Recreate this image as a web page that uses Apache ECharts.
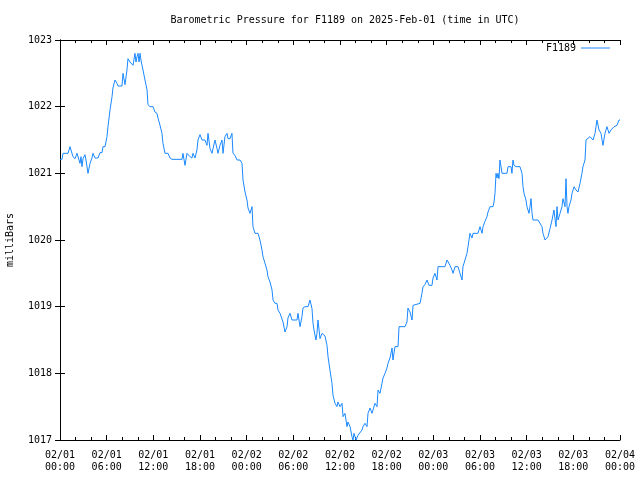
<!DOCTYPE html>
<html>
<head>
<meta charset="utf-8">
<script src="https://cdn.jsdelivr.net/npm/echarts@6/dist/echarts.min.js"></script>
<style>html,body{margin:0;padding:0;background:#fff}#c{width:640px;height:480px}</style>
</head>
<body>
<div id="c"></div>
<script>
// Hours since 2025-02-01 00:00 UTC
const hours = [0,0.26,0.39,1.03,1.29,1.41,1.67,1.93,2.19,2.31,2.57,2.70,2.83,2.96,3.21,3.34,3.60,3.86,4.11,4.24,4.50,4.89,5.14,5.40,5.53,5.79,6.04,6.17,6.43,6.69,6.81,7.07,7.33,7.46,7.97,8.10,8.36,8.61,8.74,9.00,9.39,9.64,9.77,9.90,10.03,10.16,10.29,10.41,10.54,10.67,10.93,11.19,11.31,11.57,11.96,12.21,12.47,12.60,12.86,13.11,13.24,13.50,13.89,14.14,14.40,15.69,15.81,16.07,16.33,16.71,16.97,17.10,17.36,17.61,17.74,18.00,18.26,18.64,18.90,19.03,19.29,19.54,19.67,19.93,20.19,20.31,20.57,20.83,20.96,21.21,21.47,21.60,21.86,22.11,22.24,22.50,22.76,23.14,23.40,23.53,23.79,24.04,24.17,24.43,24.69,24.81,25.07,25.46,25.71,25.97,26.10,26.36,26.61,26.74,27.00,27.26,27.39,27.64,27.90,28.03,28.29,28.54,28.67,28.93,29.19,29.31,29.57,29.83,30.47,30.60,30.86,31.11,31.24,31.50,31.89,32.14,32.40,32.53,32.66,32.91,33.04,33.17,33.43,33.69,33.81,34.07,34.33,34.46,34.71,34.97,35.10,35.36,35.61,35.74,36.00,36.26,36.39,36.64,36.90,37.03,37.29,37.54,37.67,37.80,38.06,38.31,38.44,38.83,38.96,39.21,39.47,39.60,39.86,40.11,40.24,40.50,40.76,40.89,41.14,41.40,41.53,41.79,42.04,42.17,42.43,42.69,42.81,43.07,43.46,43.59,44.36,44.61,44.74,45.00,45.26,45.39,45.64,46.29,46.54,46.67,46.93,47.19,47.44,47.83,47.96,48.21,48.47,48.60,49.50,49.76,49.89,50.14,50.40,50.53,50.79,51.17,51.43,51.69,51.81,52.07,52.33,52.46,52.71,52.97,53.10,53.74,54.00,54.26,54.39,54.64,54.90,55.03,55.29,55.67,55.80,55.93,56.06,56.19,56.31,56.44,56.57,56.83,57.47,57.60,57.99,58.11,58.24,58.37,58.63,59.14,59.40,59.53,59.66,59.91,60.04,60.30,60.43,60.56,60.69,60.81,61.46,61.71,61.97,62.10,62.36,62.61,62.74,63.00,63.26,63.39,63.51,63.77,63.90,64.03,64.29,64.54,64.67,64.93,65.06,65.19,65.31,65.44,65.70,65.83,66.09,66.34,66.60,66.86,67.11,67.24,67.50,67.63,68.14,68.53,68.79,69.04,69.30,69.56,69.81,70.07,70.33,70.59,70.84,71.23,71.61,71.87,72.00];
const pressure = [1021.21,1021.21,1021.30,1021.30,1021.40,1021.35,1021.25,1021.22,1021.30,1021.30,1021.15,1021.25,1021.10,1021.22,1021.28,1021.20,1021.00,1021.15,1021.23,1021.30,1021.23,1021.23,1021.31,1021.31,1021.40,1021.40,1021.55,1021.70,1021.95,1022.15,1022.28,1022.40,1022.35,1022.31,1022.31,1022.50,1022.33,1022.55,1022.72,1022.67,1022.62,1022.80,1022.67,1022.75,1022.80,1022.67,1022.80,1022.70,1022.67,1022.55,1022.40,1022.25,1022.03,1022.00,1022.00,1021.92,1021.90,1021.83,1021.72,1021.60,1021.45,1021.30,1021.30,1021.23,1021.21,1021.21,1021.30,1021.12,1021.30,1021.25,1021.23,1021.30,1021.23,1021.35,1021.50,1021.58,1021.50,1021.50,1021.42,1021.60,1021.37,1021.30,1021.30,1021.50,1021.37,1021.30,1021.42,1021.50,1021.30,1021.55,1021.60,1021.52,1021.52,1021.60,1021.30,1021.27,1021.20,1021.20,1021.15,1020.90,1020.72,1020.60,1020.48,1020.40,1020.50,1020.20,1020.10,1020.10,1020.00,1019.85,1019.75,1019.65,1019.55,1019.45,1019.37,1019.25,1019.10,1019.05,1019.05,1018.95,1018.90,1018.88,1018.77,1018.62,1018.70,1018.83,1018.90,1018.80,1018.80,1018.90,1018.70,1018.85,1018.98,1019.00,1019.00,1019.10,1018.97,1018.75,1018.65,1018.50,1018.60,1018.80,1018.52,1018.60,1018.60,1018.56,1018.42,1018.25,1018.05,1017.85,1017.67,1017.55,1017.50,1017.57,1017.50,1017.55,1017.35,1017.40,1017.20,1017.27,1017.20,1017.05,1017.00,1017.10,1017.00,1017.07,1017.10,1017.15,1017.20,1017.25,1017.20,1017.40,1017.48,1017.40,1017.40,1017.55,1017.50,1017.75,1017.70,1017.85,1017.93,1018.00,1018.08,1018.15,1018.23,1018.38,1018.20,1018.40,1018.40,1018.70,1018.70,1018.77,1018.98,1018.92,1018.80,1019.02,1019.05,1019.05,1019.20,1019.30,1019.33,1019.40,1019.32,1019.32,1019.43,1019.50,1019.40,1019.60,1019.60,1019.70,1019.70,1019.62,1019.55,1019.50,1019.60,1019.60,1019.50,1019.40,1019.60,1019.70,1019.80,1019.90,1020.10,1020.03,1020.10,1020.10,1020.20,1020.10,1020.20,1020.28,1020.35,1020.42,1020.50,1020.50,1020.57,1020.70,1021.00,1020.93,1021.00,1020.92,1021.20,1021.00,1021.00,1021.10,1021.10,1021.00,1021.20,1021.12,1021.10,1021.10,1021.00,1020.80,1020.70,1020.60,1020.50,1020.40,1020.50,1020.62,1020.40,1020.30,1020.30,1020.27,1020.20,1020.10,1020.00,1020.00,1020.05,1020.17,1020.30,1020.30,1020.45,1020.20,1020.50,1020.30,1020.40,1020.50,1020.62,1020.50,1020.92,1020.50,1020.40,1020.50,1020.60,1020.70,1020.80,1020.75,1020.72,1020.85,1021.00,1021.10,1021.20,1021.50,1021.55,1021.50,1021.60,1021.80,1021.65,1021.60,1021.42,1021.60,1021.70,1021.60,1021.65,1021.70,1021.72,1021.80,1021.80];
const dayLabels = ['02/01','02/02','02/03','02/04'];
const seriesName = 'F1189';
const titleText = 'Barometric Pressure for F1189 on 2025-Feb-01 (time in UTC)';
const yName = 'milliBars';

const font = 'DejaVu Sans Mono';
function fmtX(v){
  const d = Math.floor(Math.round(v)/24);
  const h = Math.round(v) % 24;
  return dayLabels[d] + '\n' + (h<10?'0':'') + h + ':00';
}
const chart = echarts.init(document.getElementById('c'), null, {renderer:'canvas'});
const axisLine = {show:true, lineStyle:{color:'#000', width:1}};
chart.setOption({
  animation:false,
  backgroundColor:'#fff',
  title:{text:titleText, left:340, top:10, textAlign:'center',
    textStyle:{fontFamily:font, fontSize:10, fontWeight:'normal', color:'#000'}},
  legend:{data:[{name:seriesName, icon:'path://M0,0L30,0L30,1L0,1Z'}], right:30, top:43, align:'right',
    padding:0, itemWidth:29, itemHeight:1, itemGap:5,
    textStyle:{fontFamily:font, fontSize:10, color:'#000'}},
  grid:{left:60, right:20, top:40, bottom:40, containLabel:false, outerBoundsMode:'none'},
  xAxis:[{type:'value', min:0, max:72, interval:6, position:'bottom',
    axisLine:axisLine, splitLine:{show:false},
    axisTick:{show:true, inside:true, length:5, lineStyle:{color:'#000'}},
    minorTick:{show:true, splitNumber:3, length:3, lineStyle:{color:'#000'}},
    axisLabel:{formatter:fmtX, fontFamily:font, fontSize:10, color:'#000', margin:9, lineHeight:12}},
   {type:'value', min:0, max:72, interval:6, position:'top',
    axisLine:axisLine, splitLine:{show:false},
    axisTick:{show:true, inside:true, length:5, lineStyle:{color:'#000'}},
    minorTick:{show:true, splitNumber:3, length:3, lineStyle:{color:'#000'}},
    axisLabel:{show:false}}],
  yAxis:[{type:'value', min:1017, max:1023, interval:1, position:'left',
    name:yName, nameLocation:'middle', nameGap:45,
    nameTextStyle:{fontFamily:font, fontSize:10, color:'#000'},
    axisLine:axisLine, splitLine:{show:false},
    axisTick:{show:true, inside:true, length:5, lineStyle:{color:'#000'}},
    axisLabel:{formatter:(v)=>String(v), fontFamily:font, fontSize:10, color:'#000', margin:8}},
   {type:'value', min:1017, max:1023, interval:1, position:'right',
    axisLine:axisLine, splitLine:{show:false},
    axisTick:{show:true, inside:true, length:5, lineStyle:{color:'#000'}},
    axisLabel:{show:false}}],
  series:[{name:seriesName, type:'line', xAxisIndex:0, yAxisIndex:0,
    showSymbol:false, symbol:'none',
    lineStyle:{color:'#1a88ff', width:1}, itemStyle:{color:'#1a88ff'},
    data:hours.map((t,i)=>[t, pressure[i]])}]
});
</script>
</body>
</html>
